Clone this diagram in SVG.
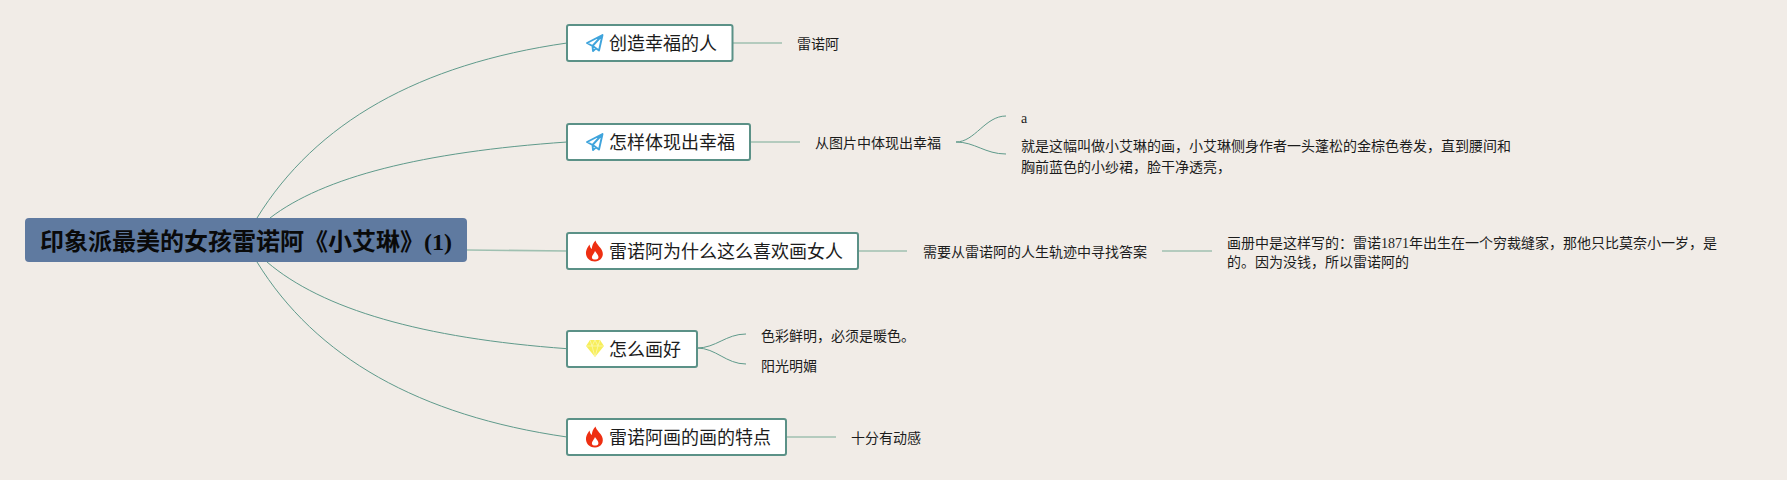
<svg xmlns="http://www.w3.org/2000/svg" width="1787" height="480" viewBox="0 0 1787 480">
<style>
text{font-family:"Liberation Serif","Noto Sans CJK SC",serif;fill:#1c1c1c}
.t{font-size:14px}
.n{font-size:18px}
.b{fill:#fff;stroke:#5b9187;stroke-width:2}
.c{fill:none;stroke:#5f9a8b;stroke-width:1}
.l{fill:none;stroke:#9fc0b1;stroke-width:1.6}
.plane{fill:none;stroke:#3fa4dc;stroke-width:1.9;stroke-linejoin:round}
.fire{fill:#ee2f12;fill-rule:evenodd}
.gem{fill:#f7ee5a}
.facet{fill:none;stroke:#fbf7b0;stroke-width:.8}
</style>
<rect width="1787" height="480" fill="#f1ece7"/>
<g id="connectors">
<path class="c" d="M257 218C315.700 122.700 419 64.300 567 43"/>
<path class="c" d="M270 218C323.300 177 422.300 152 567 142"/>
<path class="l" d="M467 250L567 251"/>
<path class="c" d="M267 262C322.300 309.300 422.300 338.200 567 348.700"/>
<path class="c" d="M257 262C315.700 357.300 419 415.700 567 437"/>
<path class="l" d="M733 43H782"/>
<path class="l" d="M750 142H800"/>
<path class="l" d="M858 251H907"/>
<path class="l" d="M1162 251H1212"/>
<path class="l" d="M786 437H836"/>
<path class="c" d="M956 142C975 142 985 116 1006 116"/>
<path class="c" d="M956 142C975 142 985 154 1006 154"/>
<path class="c" d="M697 348C716 348 726 334 746 334"/>
<path class="c" d="M697 348C716 348 726 364 746 364"/>
</g>
<g id="root">
<rect x="25" y="218" width="442" height="44" rx="4" fill="#5f7aa0"/>
<text x="40" y="250" font-size="24" font-weight="700" style="fill:#0a0a0a">印象派最美的女孩雷诺阿《小艾琳》(1)</text>
</g>
<g id="node1">
<rect class="b" x="567" y="25" width="165.500" height="36" rx="2"/>
<path class="plane" d="M602.500 35L587 43L592.500 46L602.500 35L599 50.500L593.500 46.500L592.500 46L593 51L596 48.200"/>
<text class="n" x="609" y="50">创造幸福的人</text>
</g>
<g id="leaf1"><text class="t" x="797" y="49">雷诺阿</text></g>
<g id="node2">
<rect class="b" x="567" y="124" width="183" height="36" rx="2"/>
<path class="plane" d="M602.500 134L587 142L592.500 145L602.500 134L599 149.500L593.500 145.500L592.500 145L593 150L596 147.200"/>
<text class="n" x="609" y="149">怎样体现出幸福</text>
</g>
<g id="leaf2"><text class="t" x="815" y="148">从图片中体现出幸福</text></g>
<g id="leaf2a"><text class="t" x="1021" y="123">a</text></g>
<g id="leaf2b">
<text class="t" x="1021" y="151">就是这幅叫做小艾琳的画，小艾琳侧身作者一头蓬松的金棕色卷发，直到腰间和</text>
<text class="t" x="1021" y="172">胸前蓝色的小纱裙，脸干净透亮，</text>
</g>
<g id="node3">
<rect class="b" x="567" y="233" width="291" height="36" rx="2"/>
<path class="fire" d="M595.500 240.500C596.500 244.500 600 246.500 602 250.500C604.500 256 601 261.500 595 261.500C589 261.500 585.500 257 586 252C586.300 249 588 247 589.500 244.500C590 246.500 590.500 248 591.800 249C592 246 593 243 595.500 240.500ZM595 251C594 254 591.500 255.500 592 258C592.500 260 597.500 260 598.300 258C599 255.500 596.500 253.500 595 251Z"/>
<text class="n" x="609" y="258">雷诺阿为什么这么喜欢画女人</text>
</g>
<g id="leaf3"><text class="t" x="923" y="257">需要从雷诺阿的人生轨迹中寻找答案</text></g>
<g id="leaf3a">
<text class="t" x="1227" y="248">画册中是这样写的：雷诺1871年出生在一个穷裁缝家，那他只比莫奈小一岁，是</text>
<text class="t" x="1227" y="267">的。因为没钱，所以雷诺阿的</text>
</g>
<g id="node4">
<rect class="b" x="567" y="331" width="130" height="36" rx="2"/>
<path class="gem" d="M590 340H600L604 346L595 357L586 346Z"/>
<path class="facet" d="M586 346H604M590 340L592 346L595 357L598 346L600 340M595 340L592 346M595 340L598 346"/>
<text class="n" x="609" y="356">怎么画好</text>
</g>
<g id="leaf4a"><text class="t" x="761" y="340.500">色彩鲜明，必须是暖色。</text></g>
<g id="leaf4b"><text class="t" x="761" y="371">阳光明媚</text></g>
<g id="node5">
<rect class="b" x="567" y="419" width="219" height="36" rx="2"/>
<path class="fire" d="M595.500 426.500C596.500 430.500 600 432.500 602 436.500C604.500 442 601 447.500 595 447.500C589 447.500 585.500 443 586 438C586.300 435 588 433 589.500 430.500C590 432.500 590.500 434 591.800 435C592 432 593 429 595.500 426.500ZM595 437C594 440 591.500 441.500 592 444C592.500 446 597.500 446 598.300 444C599 441.500 596.500 439.500 595 437Z"/>
<text class="n" x="609" y="444">雷诺阿画的画的特点</text>
</g>
<g id="leaf5"><text class="t" x="851" y="443">十分有动感</text></g>
</svg>
